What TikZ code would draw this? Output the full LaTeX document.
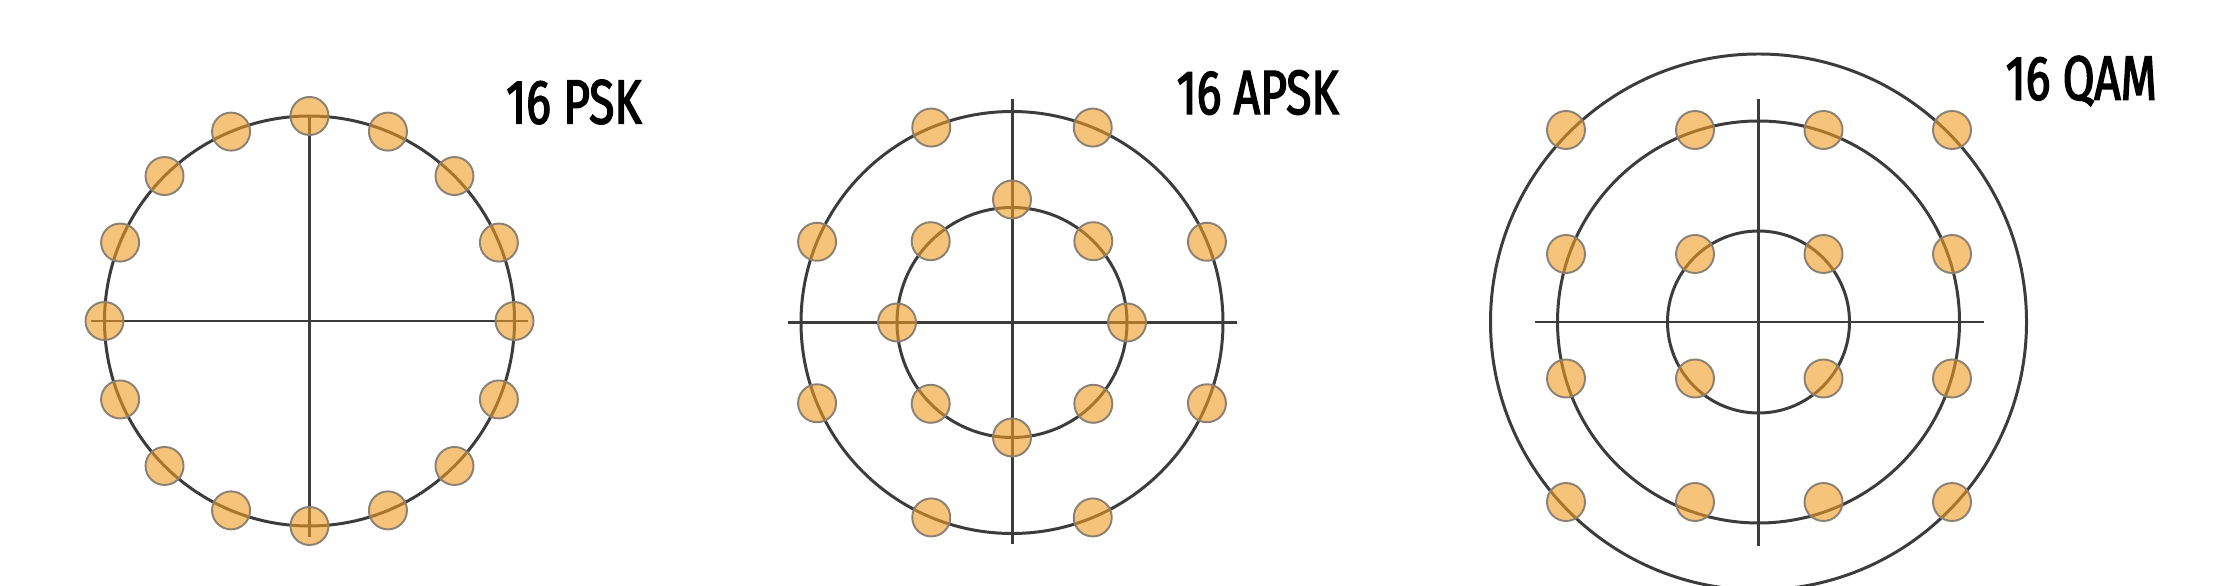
\documentclass[tikz,border=0pt]{standalone}
\usepackage{fontspec}
\setmainfont{Fira Sans}[FakeStretch=0.74,FakeBold=2.2]
\usetikzlibrary{calc}

\definecolor{dotfill}{RGB}{240,155,35}
\definecolor{dotrim}{RGB}{140,128,115}
\definecolor{linegray}{RGB}{60,60,60}

\begin{document}
\begin{tikzpicture}[
  ring/.style={line width=0.85pt,color=linegray},
  dot/.style={fill=dotfill,fill opacity=0.6,draw=dotrim,line width=0.55pt},
  title/.style={anchor=west,inner sep=0pt,font=\fontsize{17.8}{20}\selectfont}]
%\draw[help lines] (0,0) grid (22,6);
\useasboundingbox (0,0) rectangle (22.14,5.86);

% 16 PSK
\draw[ring] (3.095,2.65) circle(2.05);
\draw[ring] (0.91,2.65)--(5.28,2.65);
\draw[ring] (3.095,4.69)--(3.095,0.49);
\foreach \a in {0,22.5,...,337.5}
  \filldraw[dot] (3.095,2.65)++(\a:2.05) circle(0.19);
\node[title] (psk) at (5.055,4.84){16 PSK};

% 16 APSK
\draw[ring] (10.12,2.635) circle(2.11);
\draw[ring] (10.12,2.635) circle(1.15);
\draw[ring] (7.877,2.635)--(12.365,2.635);
\draw[ring] (10.12,4.872)--(10.12,0.424);
\foreach \a in {22.5,67.5,...,337.5}
  \filldraw[dot] (10.12,2.635)++(\a:2.11) circle(0.19);
\foreach \a in {0,45,135,180,225,270,315}
  \filldraw[dot] (10.12,2.635)++(\a:1.15) circle(0.19);
\filldraw[dot] (10.12,2.635)++(90:1.23) circle(0.19);
\node[title] (apsk) at (11.76,4.935){16 APSK};

% 16 QAM
\draw[ring] (17.585,2.64) circle(2.68);
\draw[ring] (17.585,2.64) circle(2.01);
\draw[ring] (17.585,2.64) circle(0.91);
\draw[ring] (15.35,2.64)--(19.84,2.64);
\draw[ring] (17.585,4.872)--(17.585,0.40);
\foreach \x in {15.66,16.95,18.235,19.52}
  \foreach \y in {4.56,3.32,2.075,0.84}
    \filldraw[dot] (\x,\y) circle(0.19);
\node[title] (qam) at (20.05,5.05){16 QAM};
\end{tikzpicture}
\end{document}
